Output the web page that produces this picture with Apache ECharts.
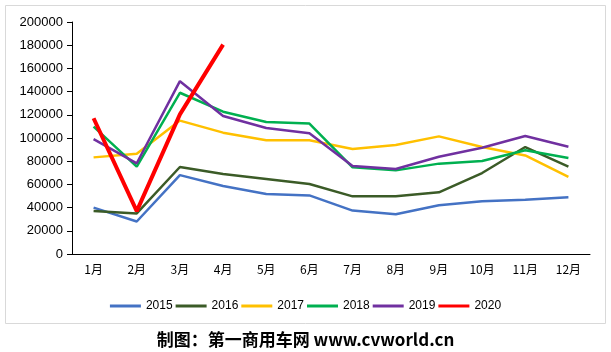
<!DOCTYPE html>
<html>
<head>
<meta charset="utf-8">
<script src="https://cdn.jsdelivr.net/npm/echarts@6/dist/echarts.min.js"></script>
<style>
  html, body { margin: 0; padding: 0; background: #fff; }
  #chart { width: 611px; height: 352px; }
</style>
</head>
<body>
<div id="chart"></div>
<script>
// 月份
const months = ['1月', '2月', '3月', '4月', '5月', '6月', '7月', '8月', '9月', '10月', '11月', '12月'];
// 各年销量
const s2015 = [40000, 28000, 68000, 58600, 51700, 50500, 37400, 34200, 42000, 45400, 46800, 48900];
const s2016 = [37000, 35000, 75000, 69000, 64700, 60300, 49700, 49700, 53200, 69800, 92200, 75300];
const s2017 = [83300, 86500, 115000, 104600, 98000, 98000, 90500, 94000, 101400, 92200, 85000, 66400];
const s2018 = [109800, 75300, 139000, 122700, 113800, 112400, 74700, 72100, 77900, 80200, 89400, 82800];
const s2019 = [99000, 78200, 149000, 119000, 108600, 104000, 75900, 73300, 83900, 91600, 101700, 92500];
const s2020 = [117000, 37000, 120400, 180500];

const years = ['2015', '2016', '2017', '2018', '2019', '2020'];
const colors = ['#4472C4', '#3B5B27', '#FFC000', '#00B050', '#7030A0', '#FF0000'];
const values = [s2015, s2016, s2017, s2018, s2019, s2020];

const myChart = echarts.init(document.getElementById('chart'));

const option = {
  animation: false,
  backgroundColor: '#fff',
  color: colors,
  grid: {
    left: 72,
    right: 21,
    top: 22,
    bottom: 98
  },
  legend: {
    top: 295,
    left: 'center',
    icon: 'rect',
    itemWidth: 31,
    itemHeight: 3,
    itemGap: 3,
    textStyle: { fontSize: 12, color: '#000', fontFamily: 'Liberation Sans' },
    data: years
  },
  xAxis: {
    type: 'category',
    data: months,
    boundaryGap: true,
    axisLine: { lineStyle: { color: '#000', width: 1 } },
    axisTick: { alignWithLabel: false, length: 5, lineStyle: { color: '#000' } },
    axisLabel: { fontSize: 12, color: '#000', margin: 9, fontFamily: 'Noto Sans CJK SC' }
  },
  yAxis: {
    type: 'value',
    min: 0,
    max: 200000,
    interval: 20000,
    axisLine: { show: true, lineStyle: { color: '#000', width: 1 } },
    axisTick: { show: true, length: 5, lineStyle: { color: '#000' } },
    axisLabel: {
      fontSize: 13, color: '#000', margin: 9, fontFamily: 'Liberation Sans',
      formatter: v => String(v)
    },
    splitLine: { show: false }
  },
  graphic: [
    {
      type: 'rect',
      shape: { x: 5.5, y: 5.5, width: 600, height: 318 },
      style: { fill: 'none', stroke: '#d9d9d9', lineWidth: 1 },
      silent: true
    },
    {
      type: 'text',
      left: 'center',
      top: 331,
      style: {
        text: '制图：第一商用车网 www.cvworld.cn',
        font: 'bold 17px "Noto Sans CJK SC"',
        fill: '#000'
      }
    }
  ],
  series: years.map((y, i) => ({
    name: y,
    type: 'line',
    symbol: 'none',
    data: values[i],
    z: i === 5 ? 10 : 2,
    lineStyle: { width: i === 5 ? 4 : 2.5, color: colors[i] },
    itemStyle: { color: colors[i] }
  }))
};

myChart.setOption(option);
</script>
</body>
</html>
